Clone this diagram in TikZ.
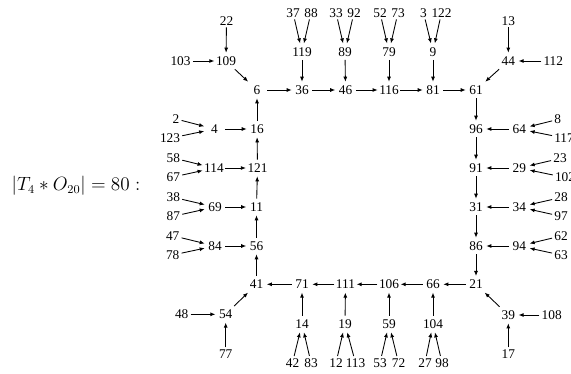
\documentclass[tikz,border=0pt]{standalone}
\usepackage{fontspec}
\setmainfont{Liberation Serif}
\usepackage{tikz}
\usetikzlibrary{arrows.meta}
\tikzset{
    num/.style={inner sep=1pt, minimum width=15pt, minimum height=12pt},
    % nodes that only send an arrow
    src/.style={inner sep=1.5pt},
    numarrow/.style={
        line width=0.65pt,
        black,
        -{Latex[length=3.8pt, width=3pt]}
    }
}

\begin{document}
\begin{tikzpicture}[x=0.75pt, y=-0.75pt]
	\useasboundingbox (0,0) rectangle (571,374);
	\node [font=\fontsize{13.3}{16}\selectfont] (size) at (76,186) {$|T_4 * O_{20}| = 80:$};

	\node [num] (n6) at (257,90) {6};
	\node [num] (n36) at (302,90) {36};
	\node [num] (n46) at (345.5,90) {46};
	\node [num] (n116) at (389,90) {116};
	\node [num] (n81) at (433,90) {81};
	\node [num] (n61) at (476,90) {61};

	\node [num] (n119) at (302,51.7) {119};
	\node [num] (n89) at (345,51.7) {89};
	\node [num] (n79) at (389,51.7) {79};
	\node [num] (n9) at (433,51.7) {9};
	\node [src] (n37) at (293,12.7) {37};
	\node [src] (n88) at (311,12.7) {88};
	\node [src] (n33) at (336,12.7) {33};
	\node [src] (n92) at (354,12.7) {92};
	\node [src] (n52) at (380,12.7) {52};
	\node [src] (n73) at (398,12.7) {73};
	\node [src] (n3) at (423.5,12.7) {3};
	\node [src] (n122) at (441.5,12.7) {122};

	\node [src] (n22) at (226.5,20.7) {22};
	\node [num] (n109) at (226,61) {109};
	\node [src] (n103) at (180.5,61) {103};
	\node [src] (n13) at (508.3,20.7) {13};
	\node [num] (n44) at (508.3,61) {44};
	\node [src] (n112) at (553.3,61) {112};

	\node [num] (n96) at (476,129) {96};
	\node [num] (n91) at (476,168) {91};
	\node [num] (n31) at (476,207) {31};
	\node [num] (n86) at (476,246) {86};
	\node [num] (n21) at (476,284.3) {21};
	\node [num] (n64) at (519.3,129) {64};
	\node [num] (n29) at (519.3,168) {29};
	\node [num] (n34) at (519.3,207) {34};
	\node [num] (n94) at (519.3,246) {94};
	\node [src] (n8) at (557.7,119.5) {8};
	\node [src] (n117) at (564,138) {117};
	\node [src] (n23) at (560,158.5) {23};
	\node [src] (n102) at (565,177.5) {102};
	\node [src] (n28) at (561,197.5) {28};
	\node [src] (n97) at (561,216.3) {97};
	\node [src] (n62) at (561,236) {62};
	\node [src] (n63) at (561,255) {63};

	\node [num] (n41) at (256.5,284.3) {41};
	\node [num] (n71) at (302,284.3) {71};
	\node [num] (n111) at (345.5,284.3) {111};
	\node [num] (n106) at (389,284.3) {106};
	\node [num] (n66) at (433,284.3) {66};
	\node [num] (n14) at (302,324) {14};
	\node [num] (n19) at (345,324) {19};
	\node [num] (n59) at (389,324) {59};
	\node [num] (n104) at (433,324) {104};
	\node [src] (n42) at (292.5,362.7) {42};
	\node [src] (n83) at (311,362.7) {83};
	\node [src] (n12) at (336,362.7) {12};
	\node [src] (n113) at (355.5,362.7) {113};
	\node [src] (n53) at (380,362.7) {53};
	\node [src] (n72) at (398.5,362.7) {72};
	\node [src] (n27) at (425,362.7) {27};
	\node [src] (n98) at (442,362.7) {98};

	\node [src] (n48) at (181.7,314.3) {48};
	\node [num] (n54) at (225.7,314.3) {54};
	\node [src] (n77) at (225.7,354) {77};
	\node [num] (n39) at (508.3,315) {39};
	\node [src] (n108) at (551.7,315) {108};
	\node [src] (n17) at (508.3,354) {17};

	\node [num] (n16) at (257,129) {16};
	\node [num] (n121) at (257.5,168) {121};
	\node [num] (n11) at (256.5,207) {11};
	\node [num] (n56) at (256.5,246) {56};
	\node [num] (n4) at (214.5,129) {4};
	\node [num] (n114) at (214,168) {114};
	\node [num] (n69) at (215,207) {69};
	\node [num] (n84) at (215,246) {84};
	\node [src] (n2) at (176,119) {2};
	\node [src] (n123) at (170,138.3) {123};
	\node [src] (n58) at (173.3,158) {58};
	\node [src] (n67) at (173.3,177) {67};
	\node [src] (n38) at (173.3,197.3) {38};
	\node [src] (n87) at (173.3,216.3) {87};
	\node [src] (n47) at (172.7,235.7) {47};
	\node [src] (n78) at (172.7,255) {78};

	\draw[numarrow] (n6) -- (n36);
	\draw[numarrow] (n36) -- (n46);
	\draw[numarrow] (n46) -- (n116);
	\draw[numarrow] (n116) -- (n81);
	\draw[numarrow] (n81) -- (n61);
	\draw[numarrow] (n119) -- (n36);
	\draw[numarrow] (n89) -- (n46);
	\draw[numarrow] (n79) -- (n116);
	\draw[numarrow] (n9) -- (n81);
	\draw[numarrow] (n37) -- (n119);
	\draw[numarrow] (n88) -- (n119);
	\draw[numarrow] (n33) -- (n89);
	\draw[numarrow] (n92) -- (n89);
	\draw[numarrow] (n52) -- (n79);
	\draw[numarrow] (n73) -- (n79);
	\draw[numarrow] (n3) -- (n9);
	\draw[numarrow] (n122) -- (n9);
	\draw[numarrow] (n22) -- (n109);
	\draw[numarrow] (n103) -- (n109);
	\draw[numarrow] (n109) -- (n6);
	\draw[numarrow] (n13) -- (n44);
	\draw[numarrow] (n112) -- (n44);
	\draw[numarrow] (n44) -- (n61);

	\draw[numarrow] (n61) -- (n96);
	\draw[numarrow] (n96) -- (n91);
	\draw[numarrow] (n91) -- (n31);
	\draw[numarrow] (n31) -- (n86);
	\draw[numarrow] (n86) -- (n21);
	\draw[numarrow] (n64) -- (n96);
	\draw[numarrow] (n29) -- (n91);
	\draw[numarrow] (n34) -- (n31);
	\draw[numarrow] (n94) -- (n86);
	\draw[numarrow] (n8) -- (n64);
	\draw[numarrow] (n117) -- (n64);
	\draw[numarrow] (n23) -- (n29);
	\draw[numarrow] (n102) -- (n29);
	\draw[numarrow] (n28) -- (n34);
	\draw[numarrow] (n97) -- (n34);
	\draw[numarrow] (n62) -- (n94);
	\draw[numarrow] (n63) -- (n94);

	\draw[numarrow] (n21) -- (n66);
	\draw[numarrow] (n66) -- (n106);
	\draw[numarrow] (n106) -- (n111);
	\draw[numarrow] (n111) -- (n71);
	\draw[numarrow] (n71) -- (n41);
	\draw[numarrow] (n104) -- (n66);
	\draw[numarrow] (n59) -- (n106);
	\draw[numarrow] (n19) -- (n111);
	\draw[numarrow] (n14) -- (n71);
	\draw[numarrow] (n27) -- (n104);
	\draw[numarrow] (n98) -- (n104);
	\draw[numarrow] (n53) -- (n59);
	\draw[numarrow] (n72) -- (n59);
	\draw[numarrow] (n12) -- (n19);
	\draw[numarrow] (n113) -- (n19);
	\draw[numarrow] (n42) -- (n14);
	\draw[numarrow] (n83) -- (n14);
	\draw[numarrow] (n39) -- (n21);
	\draw[numarrow] (n108) -- (n39);
	\draw[numarrow] (n17) -- (n39);

	\draw[numarrow] (n41) -- (n56);
	\draw[numarrow] (n56) -- (n11);
	\draw[numarrow] (n11) -- (n121);
	\draw[numarrow] (n121) -- (n16);
	\draw[numarrow] (n16) -- (n6);
	\draw[numarrow] (n84) -- (n56);
	\draw[numarrow] (n69) -- (n11);
	\draw[numarrow] (n114) -- (n121);
	\draw[numarrow] (n4) -- (n16);
	\draw[numarrow] (n47) -- (n84);
	\draw[numarrow] (n78) -- (n84);
	\draw[numarrow] (n38) -- (n69);
	\draw[numarrow] (n87) -- (n69);
	\draw[numarrow] (n58) -- (n114);
	\draw[numarrow] (n67) -- (n114);
	\draw[numarrow] (n2) -- (n4);
	\draw[numarrow] (n123) -- (n4);
	\draw[numarrow] (n54) -- (n41);
	\draw[numarrow] (n48) -- (n54);
	\draw[numarrow] (n77) -- (n54);
\end{tikzpicture}
\end{document}
